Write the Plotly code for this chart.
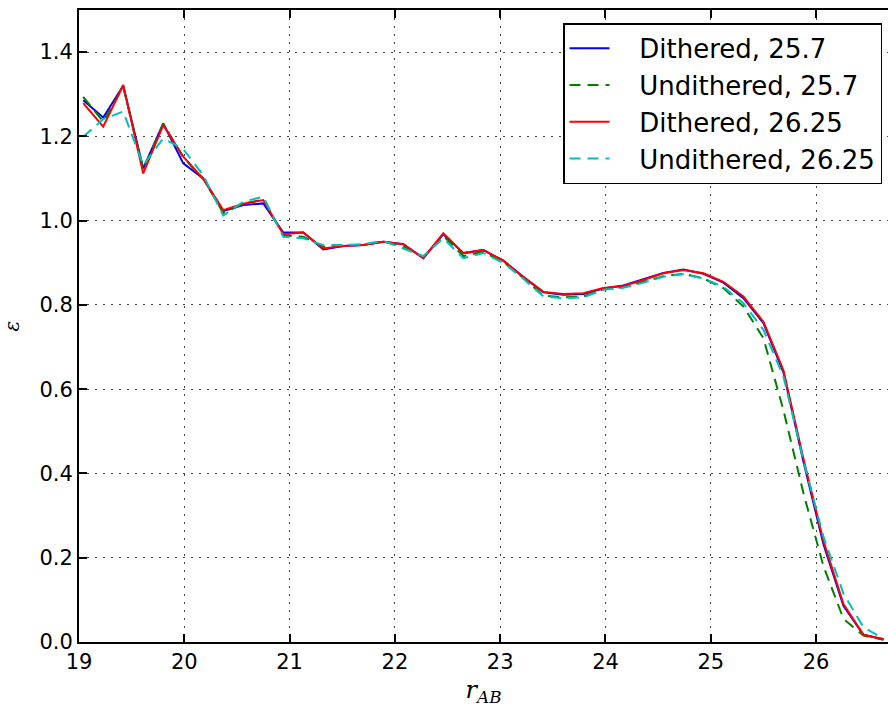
import plotly.graph_objects as go

r_ab = [19.04, 19.23, 19.42, 19.61, 19.80, 19.99, 20.18, 20.37, 20.56, 20.75,
        20.94, 21.13, 21.32, 21.51, 21.70, 21.89, 22.08, 22.27, 22.46, 22.65,
        22.84, 23.03, 23.22, 23.41, 23.60, 23.79, 23.98, 24.17, 24.36, 24.55,
        24.74, 24.93, 25.12, 25.31, 25.50, 25.69, 25.88, 26.07, 26.26, 26.45, 26.64]

dith_257 = [1.286, 1.245, 1.320, 1.124, 1.231, 1.136, 1.100, 1.023, 1.037, 1.041,
            0.972, 0.972, 0.932, 0.940, 0.942, 0.950, 0.944, 0.911, 0.968, 0.923,
            0.930, 0.905, 0.866, 0.830, 0.824, 0.826, 0.839, 0.846, 0.861, 0.876,
            0.884, 0.874, 0.853, 0.816, 0.757, 0.640, 0.428, 0.232, 0.086, 0.017, 0.006]

undith_257 = [1.294, 1.235, 1.318, 1.122, 1.230, 1.150, 1.100, 1.018, 1.040, 1.050,
              0.965, 0.962, 0.938, 0.941, 0.943, 0.951, 0.938, 0.914, 0.964, 0.916,
              0.926, 0.902, 0.864, 0.822, 0.818, 0.820, 0.837, 0.842, 0.855, 0.868,
              0.874, 0.863, 0.840, 0.796, 0.721, 0.550, 0.353, 0.180, 0.055, 0.015, 0.005]

dith_2625 = [1.279, 1.223, 1.322, 1.112, 1.227, 1.152, 1.099, 1.025, 1.040, 1.049,
             0.968, 0.972, 0.934, 0.940, 0.942, 0.950, 0.944, 0.911, 0.970, 0.923,
             0.930, 0.905, 0.867, 0.831, 0.826, 0.828, 0.840, 0.845, 0.859, 0.875,
             0.883, 0.875, 0.855, 0.820, 0.760, 0.645, 0.435, 0.240, 0.090, 0.017, 0.007]

undith_2625 = [1.199, 1.241, 1.259, 1.132, 1.195, 1.170, 1.108, 1.012, 1.045, 1.057,
               0.962, 0.958, 0.942, 0.942, 0.944, 0.952, 0.934, 0.916, 0.958, 0.911,
               0.923, 0.900, 0.862, 0.820, 0.816, 0.818, 0.836, 0.841, 0.853, 0.867,
               0.873, 0.863, 0.843, 0.804, 0.741, 0.630, 0.430, 0.250, 0.115, 0.035, 0.008]

y_ticks = [0.0, 0.2, 0.4, 0.6, 0.8, 1.0, 1.2, 1.4]
x_ticks = [19, 20, 21, 22, 23, 24, 25, 26]

series = [
    ("Dithered, 25.7", dith_257, "#0000ff", "solid"),
    ("Undithered, 25.7", undith_257, "#008000", "11px,7px"),
    ("Dithered, 26.25", dith_2625, "#ff0000", "solid"),
    ("Undithered, 26.25", undith_2625, "#00bfbf", "11px,7px"),
]

PAD = "\u00a0" * 3

fig = go.Figure()
for name, ys, col, dash in series:
    fig.add_trace(go.Scatter(x=r_ab, y=ys, mode="lines", name=PAD + name,
                             line=dict(color=col, width=2, dash=dash)))

fig.update_layout(
    width=888, height=707,
    margin=dict(l=79, r=0, t=10, b=65),
    plot_bgcolor="white", paper_bgcolor="white",
    font=dict(family="DejaVu Sans", size=21, color="black"),
    showlegend=True,
    legend=dict(x=0.9926, y=0.979, xanchor="right", yanchor="top",
                bgcolor="white", bordercolor="black", borderwidth=1.5,
                font=dict(family="DejaVu Sans", size=26, color="black"),
                itemwidth=40, tracegroupgap=0),
)
fig.update_xaxes(
    range=[19, 26.683], tickvals=x_ticks, ticktext=[str(v) for v in x_ticks],
    showline=True, linecolor="black", linewidth=2, mirror="ticks",
    ticks="inside", ticklen=8, tickwidth=1.5, tickcolor="black",
    showgrid=True, gridcolor="#444", gridwidth=1, griddash="2px,6px",
    zeroline=False,
    title=dict(text="<i>r</i><sub><i>AB</i></sub>",
               font=dict(family="DejaVu Serif", size=24), standoff=8),
)
fig.update_yaxes(
    range=[0, 1.5], tickvals=y_ticks, ticktext=["%.1f" % v for v in y_ticks],
    showline=True, linecolor="black", linewidth=2, mirror=False,
    ticks="inside", ticklen=8, tickwidth=1.5, tickcolor="black",
    showgrid=True, gridcolor="#444", gridwidth=1, griddash="2px,6px",
    zeroline=False,
    title=dict(text="<i>ε</i>", font=dict(family="DejaVu Serif", size=20), standoff=14),
)

fig.write_html("out.html")
